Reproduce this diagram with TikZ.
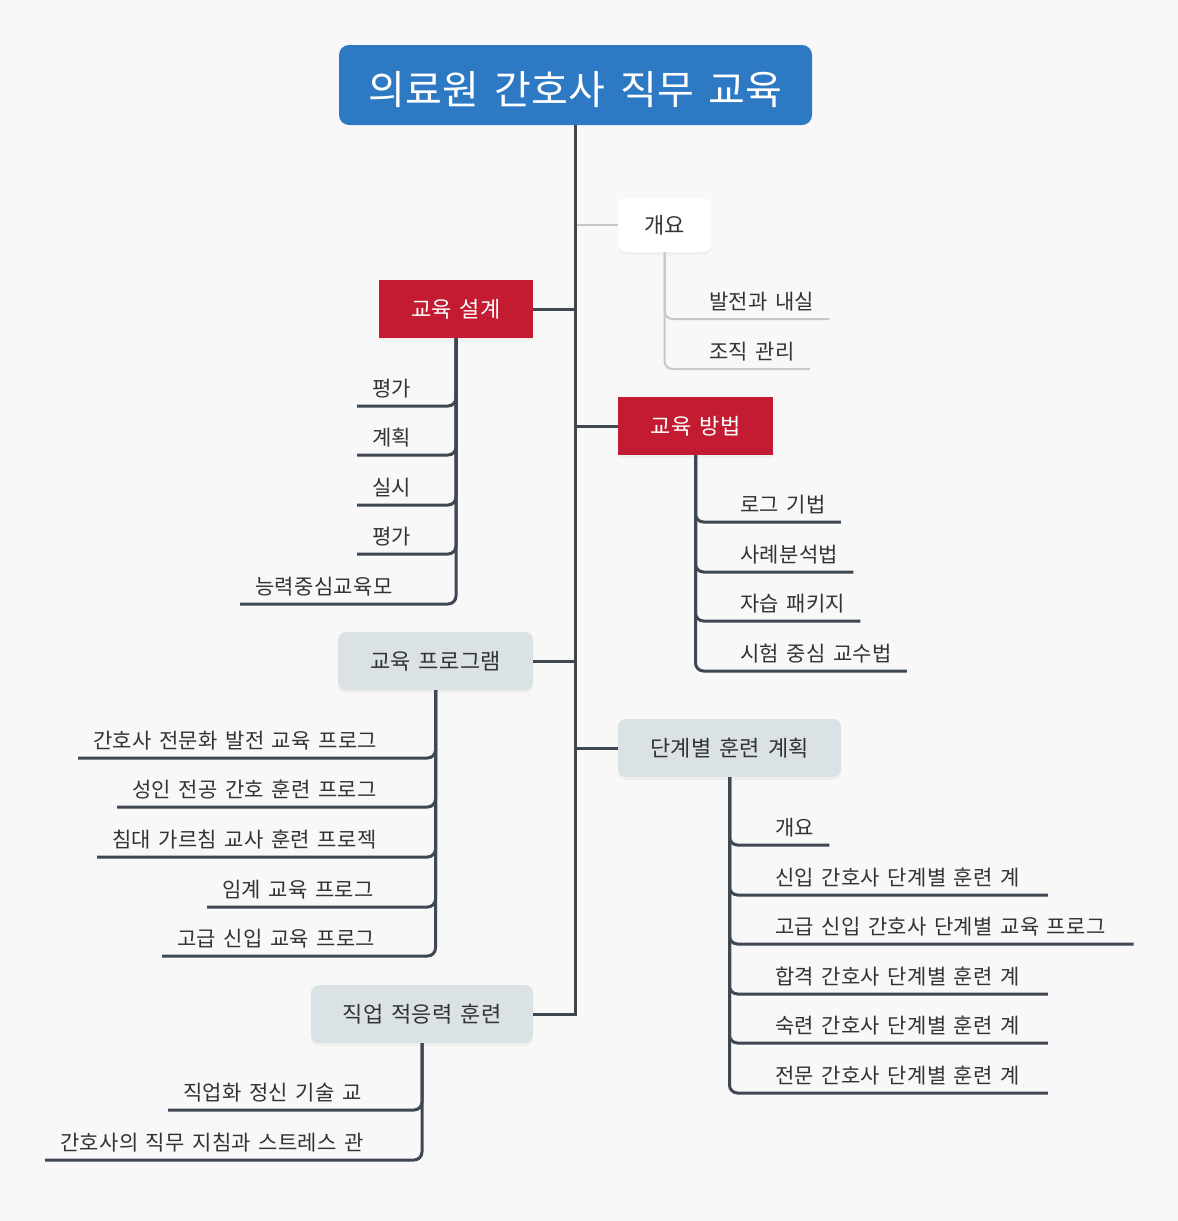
\documentclass[tikz,border=0pt]{standalone}
\usepackage{fontspec}
\setmainfont{Noto Sans CJK KR}[LetterSpace=1.5, WordSpace=1.5]
\usetikzlibrary{shadows}
\definecolor{bgc}{HTML}{F8F8F8}
\definecolor{rootblue}{HTML}{2E79C3}
\definecolor{crim}{HTML}{C31B31}
\definecolor{greyfill}{HTML}{DAE2E5}
\definecolor{linec}{HTML}{3E4752}
\definecolor{lightc}{HTML}{C8C8C8}
\definecolor{txtc}{HTML}{333333}
\newcommand{\trailsp}{\hbox to 13pt{}}
\tikzset{
  softshadow/.style={drop shadow={opacity=0.07,shadow xshift=0pt,shadow yshift=-3pt}},
  rootbox/.style={fill=rootblue, rounded corners=10pt, minimum width=473pt, minimum height=80pt,
    inner sep=0pt, text=white, font=\fontsize{40}{40}\selectfont, text height=40pt, text depth=1.6pt},
  redbox/.style={fill=crim, minimum height=58pt, inner sep=0pt, text=white, softshadow,
    font=\fontsize{22}{22}\selectfont, text height=17.6pt, text depth=1.6pt},
  greybox/.style={fill=greyfill, rounded corners=8pt, minimum height=58pt, inner sep=0pt, text=txtc, softshadow,
    font=\fontsize{22}{22}\selectfont, text height=17.6pt, text depth=1.6pt},
  whitebox/.style={fill=white, rounded corners=8pt, minimum height=54pt, inner sep=0pt, text=txtc, softshadow,
    font=\fontsize{22}{22}\selectfont, text height=17.6pt, text depth=1.6pt},
  leaf/.style={anchor=south west, inner xsep=15pt, inner ysep=8pt, text=txtc,
    font=\fontsize{21}{21}\selectfont, text height=16.8pt, text depth=1.5pt},
  trunk/.style={draw=linec, line width=3pt},
  branch/.style={draw=linec, line width=3pt, rounded corners=8pt},
  lightbranch/.style={draw=lightc, line width=2pt, rounded corners=8pt},
}
\begin{document}
\begin{tikzpicture}[x=1pt,y=-1pt]
\useasboundingbox (0,0) rectangle (1178,1221);
\fill[bgc] (0,0) rectangle (1178,1221);

% main boxes
\node[rootbox] (root) at (575.5,85) {의료원 간호사 직무 교육};
\node[whitebox, minimum width=93pt] (b0) at (664.5,225) {개요};
\node[redbox, minimum width=154pt] (b1) at (456,309) {교육 설계};
\node[redbox, minimum width=155pt] (b2) at (695.5,426) {교육 방법};
\node[greybox, minimum width=195pt] (b3) at (435.5,661) {교육 프로그램};
\node[greybox, minimum width=223pt] (b4) at (729.5,748) {단계별 훈련 계획};
\node[greybox, minimum width=222pt] (b5) at (422,1014) {직업 적응력 훈련};

% trunk and connectors
\draw[lightc, line width=2pt] (root.south |- b0.west) -- (b0.west);
\draw[trunk] (root.south |- b1.east) -- (b1.east);
\draw[trunk] (root.south |- b2.west) -- (b2.west);
\draw[trunk] (root.south |- b3.east) -- (b3.east);
\draw[trunk] (root.south |- b4.west) -- (b4.west);
\draw[trunk] (root.south) |- (b5.east);

% 개요
\node[leaf] (a1) at (694,319) {발전과 내실};
\node[leaf] (a2) at (694,369) {조직 관리};
\foreach \n in {a1,a2} \draw[lightbranch] (b0.south) |- (\n.south east);

% 교육 설계
\node[leaf] (d1) at (357,406) {평가};
\node[leaf] (d2) at (357,455) {계획};
\node[leaf] (d3) at (357,505) {실시};
\node[leaf] (d4) at (357,554) {평가};
\node[leaf] (d5) at (240,604) {능력중심교육모};
\foreach \n in {d1,d2,d3,d4,d5} \draw[branch] (b1.south) |- (\n.south west);

% 교육 방법
\node[leaf] (m1) at (725,522) {로그 기법};
\node[leaf] (m2) at (725,572) {사례분석법};
\node[leaf] (m3) at (725,621) {자습 패키지};
\node[leaf] (m4) at (725,671) {시험 중심 교수법};
\foreach \n in {m1,m2,m3,m4} \draw[branch] (b2.south) |- (\n.south east);

% 교육 프로그램
\node[leaf] (p1) at (78,758) {간호사 전문화 발전 교육 프로그};
\node[leaf] (p2) at (117,807) {성인 전공 간호 훈련 프로그};
\node[leaf] (p3) at (97,857) {침대 가르침 교사 훈련 프로젝};
\node[leaf] (p4) at (207,907) {임계 교육 프로그};
\node[leaf] (p5) at (162,956) {고급 신입 교육 프로그};
\foreach \n in {p1,p2,p3,p4,p5} \draw[branch] (b3.south) |- (\n.south west);

% 단계별 훈련 계획
\node[leaf] (s1) at (760,845) {개요};
\node[leaf] (s2) at (760,895) {신입 간호사 단계별 훈련 계\trailsp};
\node[leaf] (s3) at (760,944) {고급 신입 간호사 단계별 교육 프로그\trailsp};
\node[leaf] (s4) at (760,994) {합격 간호사 단계별 훈련 계\trailsp};
\node[leaf] (s5) at (760,1043) {숙련 간호사 단계별 훈련 계\trailsp};
\node[leaf] (s6) at (760,1093) {전문 간호사 단계별 훈련 계\trailsp};
\foreach \n in {s1,s2,s3,s4,s5,s6} \draw[branch] (b4.south) |- (\n.south east);

% 직업 적응력 훈련
\node[leaf] (j1) at (168,1110) {직업화 정신 기술 교};
\node[leaf] (j2) at (45,1160) {간호사의 직무 지침과 스트레스 관};
\foreach \n in {j1,j2} \draw[branch] (b5.south) |- (\n.south west);
\end{tikzpicture}
\end{document}
